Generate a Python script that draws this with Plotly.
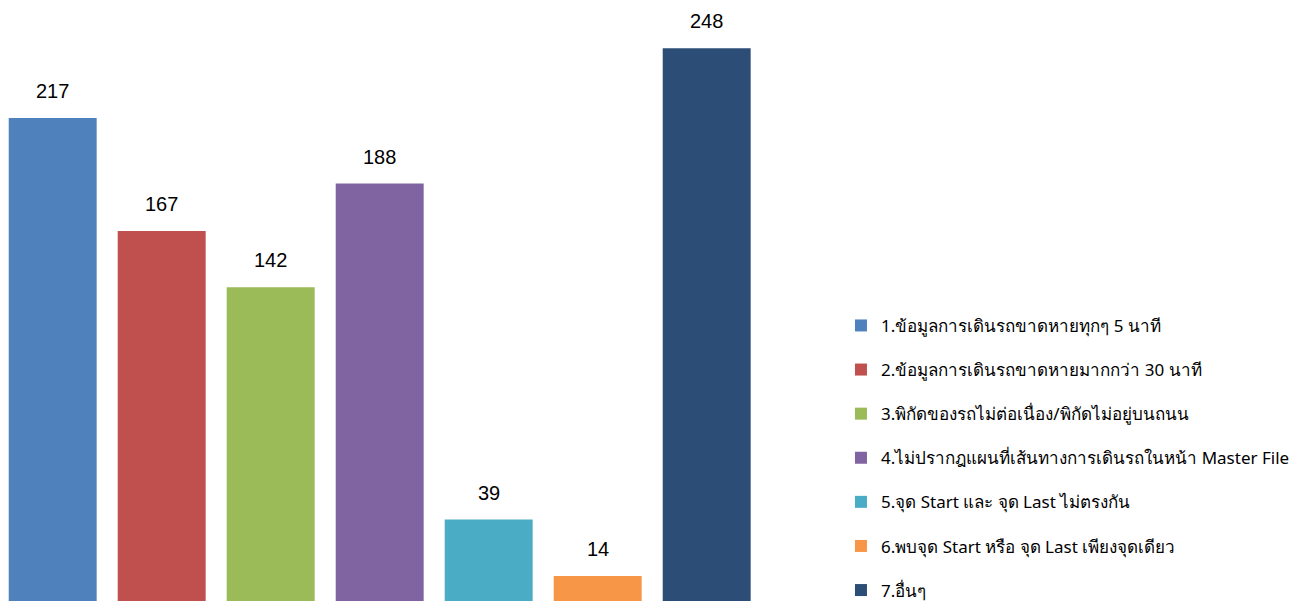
import plotly.graph_objects as go

categories = [
    "1.ข้อมูลการเดินรถขาดหายทุกๆ 5 นาที",
    "2.ข้อมูลการเดินรถขาดหายมากกว่า 30 นาที",
    "3.พิกัดของรถไม่ต่อเนื่อง/พิกัดไม่อยู่บนถนน",
    "4.ไม่ปรากฎแผนที่เส้นทางการเดินรถในหน้า Master File",
    "5.จุด Start และ จุด Last ไม่ตรงกัน",
    "6.พบจุด Start หรือ จุด Last เพียงจุดเดียว",
    "7.อื่นๆ",
]
values = [217, 167, 142, 188, 39, 14, 248]
colors = ["#4F81BD", "#C0504D", "#9BBB59", "#8064A2", "#4BACC6", "#F79646", "#2C4D75"]

fig = go.Figure()
for i, (cat, val, col) in enumerate(zip(categories, values, colors)):
    fig.add_trace(go.Bar(
        x=[i], y=[val], name=cat, marker_color=col, marker_line_width=0,
        legendgroup=str(i), showlegend=True,
    ))
    fig.add_annotation(
        x=i, y=val, text=str(val), showarrow=False, yanchor="bottom", yshift=14,
        font=dict(family="Liberation Sans, Arial", size=20, color="#000000"),
    )

fig.update_layout(
    width=1307, height=601,
    margin=dict(l=0, r=544, t=0, b=0),
    paper_bgcolor="white", plot_bgcolor="white",
    barmode="overlay", bargap=0.193,
    showlegend=True,
    legend=dict(
        x=1.0917, xanchor="left", y=0.501, yanchor="top",
        font=dict(family="Tahoma, Noto Sans, DejaVu Sans", size=17, color="#000000"),
        tracegroupgap=19, itemsizing="constant",
        bgcolor="rgba(0,0,0,0)",
    ),
    xaxis=dict(visible=False, range=[-0.41, 6.59]),
    yaxis=dict(visible=False, range=[-0.62, 265.8]),
)
fig.write_html("out.html")
